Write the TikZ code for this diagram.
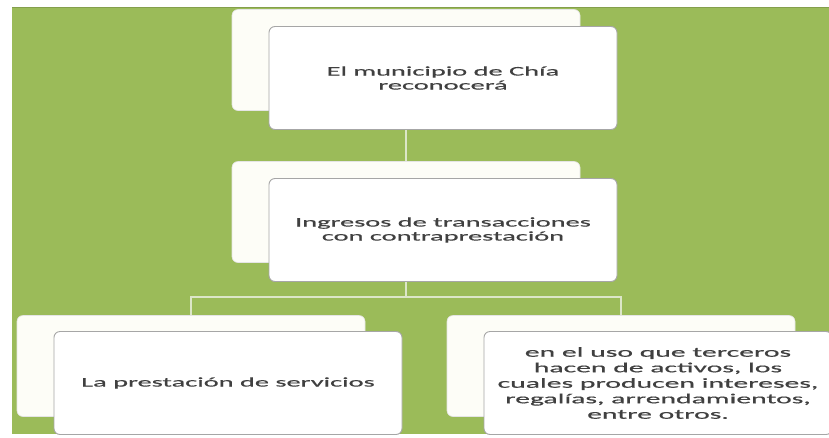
\documentclass[tikz,border=0pt]{standalone}
\usepackage{fontspec}
\newfontfamily\cardfont[FakeStretch=2.15, FakeBold=0.6]{Carlito}
\definecolor{bggreen}{HTML}{9BBB59}
\definecolor{txtgray}{HTML}{404040}
\definecolor{linkcol}{HTML}{DCE6C8}
\definecolor{backfill}{HTML}{FDFDF7}
\begin{document}
\begin{tikzpicture}[x=1pt,y=-1pt,
  backcard/.style={draw=black!10, line width=0.6pt, fill=backfill, rounded corners=6pt,
    minimum width=348pt, minimum height=101pt, inner sep=0pt},
  frontcard/.style={draw=black!35, line width=0.9pt, fill=white, rounded corners=6pt,
    minimum width=348pt, minimum height=103pt, inner sep=0pt, align=center,
    text=txtgray, font=\cardfont\fontsize{13.2}{14}\selectfont},
  link/.style={draw=linkcol, line width=1.5pt}]
\useasboundingbox (0,0) rectangle (829,437);
\fill[white] (0,0) rectangle (829,437);
\fill[bggreen] (12,7) rectangle (829,434);
\draw[bggreen!85!black, line width=0.8pt] (12,7.4) -- (829,7.4);

\node[backcard] (b1) at (406,60) {};
\node[frontcard] (f1) at (443,78) {El municipio de Chía\\reconocerá};

\node[backcard] (b2) at (406,212) {};
\node[frontcard] (f2) at (443,230) {Ingresos de transacciones\\con contraprestación};

\node[backcard] (b3) at (191,366) {};
\node[frontcard] (f3) at (228,383) {La prestación de servicios};

\node[backcard] (b4) at (621,366) {};
\node[frontcard, font=\cardfont\fontsize{13.8}{15.5}\selectfont] (f4) at (658,383)
  {en el uso que terceros\\hacen de activos, los\\cuales producen  intereses,\\regalías, arrendamientos,\\entre otros.};

\coordinate (j) at (406,297);
\draw[link] (f1.south -| b2.north) -- (b2.north);
\draw[link] (f2.south -| b2.north) -- (j);
\draw[link] (j) -| (b3.north);
\draw[link] (j) -| (b4.north);
\end{tikzpicture}
\end{document}
